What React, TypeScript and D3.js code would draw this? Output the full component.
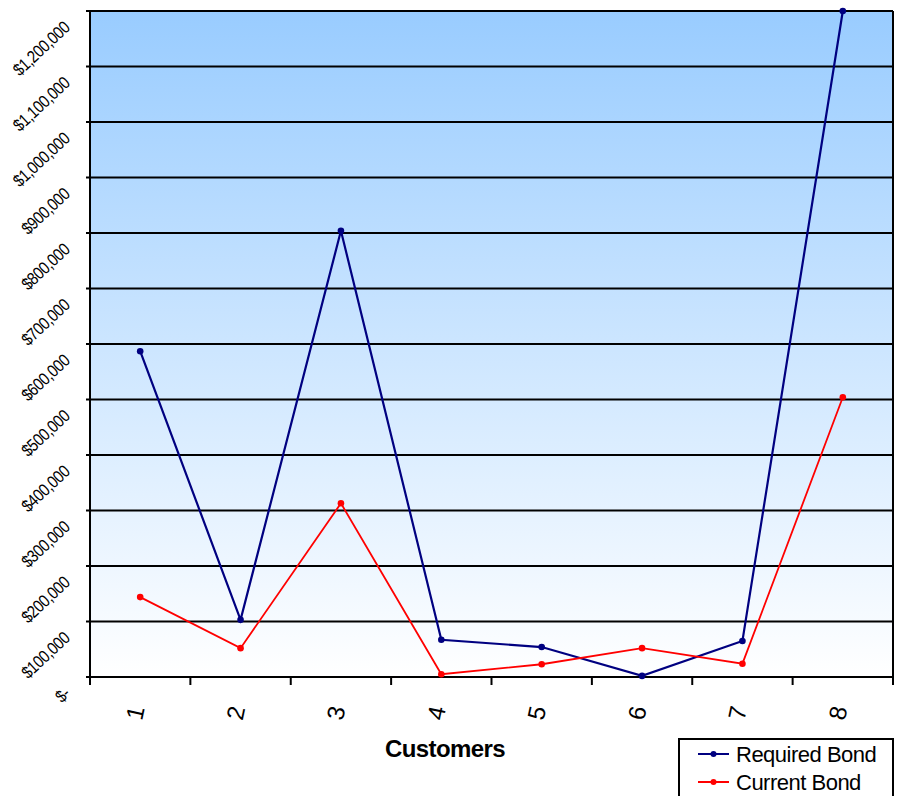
import React from "react";
import * as d3 from "d3";

const customers = ["1", "2", "3", "4", "5", "6", "7", "8"];
const requiredBond = [587000, 103000, 804000, 67000, 54000, 2000, 65000, 1200000];
const currentBond = [144000, 52000, 313000, 5000, 23000, 52000, 24000, 504000];
const yTicks = [0, 100000, 200000, 300000, 400000, 500000, 600000, 700000, 800000, 900000, 1000000, 1100000, 1200000];

const W = 898;
const H = 796;
const left = 90;
const right = 893;
const top = 11;
const bottom = 677;

const fmt = (v: number) => (v === 0 ? "$-" : "$" + d3.format(",")(v));

export default function App() {
  const x = d3.scaleBand<string>().domain(customers).range([left, right]);
  const y = d3.scaleLinear().domain([0, 1200000]).range([bottom, top]);
  const cx = (c: string) => (x(c) as number) + x.bandwidth() / 2;
  const line = d3
    .line<number>()
    .x((_, i) => cx(customers[i]))
    .y((d) => y(d));
  const series = [
    { name: "Required Bond", values: requiredBond, color: "#000080", width: 2.2, r: 3.3 },
    { name: "Current Bond", values: currentBond, color: "#FF0000", width: 1.8, r: 3.3 },
  ];
  const boundaries = customers.map((c) => x(c) as number).concat([right]);
  const font = "Arial, 'Liberation Sans', sans-serif";

  return (
    <svg width={W} height={H} style={{ position: "absolute", left: 0, top: 0, background: "#fff" }}>
      <defs>
        <linearGradient id="bg" x1="0" y1="0" x2="0" y2="1">
          <stop offset="0" stopColor="#99CCFF" />
          <stop offset="1" stopColor="#FFFFFF" />
        </linearGradient>
      </defs>
      <rect x={left} y={top} width={right - left} height={bottom - top} fill="url(#bg)" />
      {yTicks.map((v) => (
        <line key={"g" + v} x1={left - 4} x2={right} y1={y(v)} y2={y(v)} stroke="#000" strokeWidth={2} />
      ))}
      <line x1={left} x2={left} y1={top} y2={bottom} stroke="#000" strokeWidth={2} />
      <line x1={right} x2={right} y1={top} y2={bottom} stroke="#000" strokeWidth={2} />
      {boundaries.map((b, i) => (
        <line key={"t" + i} x1={b} x2={b} y1={bottom} y2={bottom + 8} stroke="#000" strokeWidth={2} />
      ))}
      {yTicks.map((v) => (
        <text
          key={"yl" + v}
          transform={`translate(71,${y(v) + 18}) rotate(-43) scale(0.84,1)`}
          textAnchor="end"
          fontFamily={font}
          fontSize={17.5}
          letterSpacing={-0.4}
          fill="#000"
        >
          {fmt(v)}
        </text>
      ))}
      {customers.map((c) => (
        <text
          key={"xl" + c}
          transform={`translate(${cx(c) - 5},713) rotate(-78)`}
          textAnchor="middle"
          dominantBaseline="central"
          fontFamily={font}
          fontSize={24}
          fill="#000"
        >
          {c}
        </text>
      ))}
      <text x={445} y={757} textAnchor="middle" fontFamily={font} fontSize={24} fontWeight="bold" letterSpacing={-0.6}>
        Customers
      </text>
      {series.map((s) => (
        <g key={s.name}>
          <path d={line(s.values) || ""} fill="none" stroke={s.color} strokeWidth={s.width} />
          {s.values.map((v, i) => (
            <circle key={i} cx={cx(customers[i])} cy={y(v)} r={s.r} fill={s.color} />
          ))}
        </g>
      ))}
      <rect x={679} y={739} width={214} height={70} fill="#fff" stroke="#000" strokeWidth={2} />
      {series.map((s, i) => (
        <g key={"lg" + s.name} transform={`translate(0,${754 + i * 28})`}>
          <line x1={698} x2={729} y1={0} y2={0} stroke={s.color} strokeWidth={2} />
          <circle cx={713.5} cy={0} r={3} fill={s.color} />
          <text x={736} y={0} dy="0.36em" fontFamily={font} fontSize={22} letterSpacing={-0.5} fill="#000">
            {s.name}
          </text>
        </g>
      ))}
    </svg>
  );
}
